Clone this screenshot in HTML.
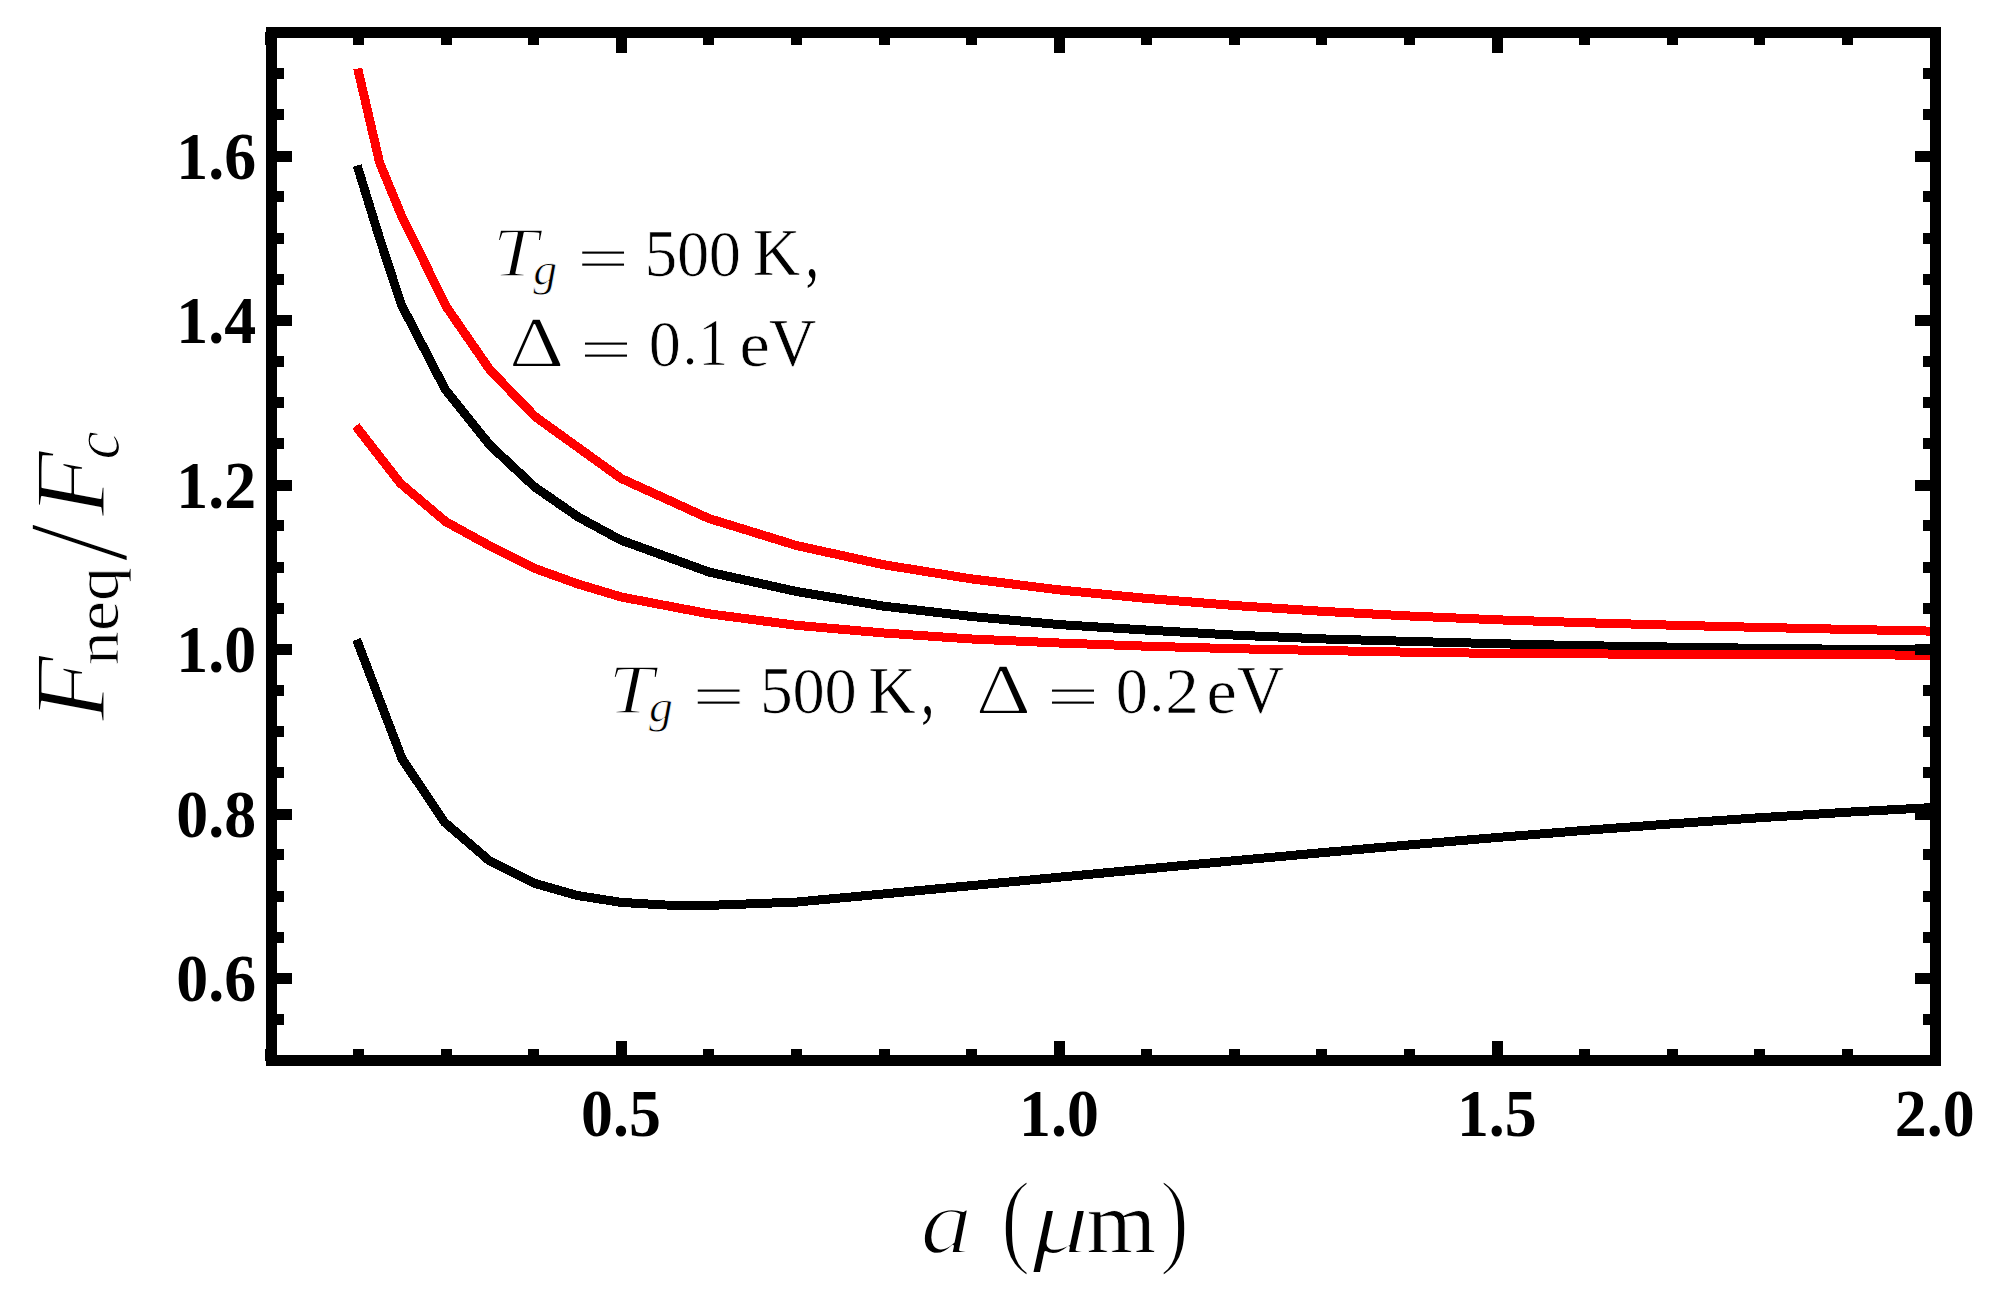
<!DOCTYPE html>
<html lang="en"><head><meta charset="utf-8"><title>F_neq / F_c versus a</title>
<style>html,body{margin:0;padding:0;background:#fff;}body{width:1992px;height:1293px;overflow:hidden;}svg{display:block;}text{font-kerning:none;}.b{font-family:"Liberation Serif",serif;font-weight:bold;}.r{font-family:"Liberation Serif",serif;font-weight:normal;}.i{font-family:"Liberation Serif",serif;font-style:italic;}</style></head><body>
<svg width="1992" height="1293" viewBox="0 0 1992 1293">
<rect x="0" y="0" width="1992" height="1293" fill="#fff"/>
<g>
<polyline points="357.2,165.6 379.5,238.0 401.3,304.5 445.2,389.4 490.0,445.3 534.6,486.9 578.3,517.1 621.3,540.3 708.9,572.0 796.4,591.5 884.0,606.2 971.6,616.5 1059.2,624.6 1146.8,630.1 1234.4,635.1 1322.0,638.9 1409.6,641.4 1497.1,643.7 1584.7,645.7 1672.3,647.1 1759.9,648.3 1847.5,649.3 1935.0,650.2" fill="none" stroke="#000" stroke-width="9.00" stroke-linejoin="miter" stroke-linecap="butt" shape-rendering="crispEdges"/>
<polyline points="356.6,639.6 402.1,758.9 444.7,822.4 489.2,860.6 533.6,883.0 577.0,895.4 621.3,902.4 665.1,905.0 708.9,905.4 796.4,902.1 884.0,893.9 971.6,885.6 1059.2,877.2 1146.8,868.9 1234.4,860.7 1322.0,852.7 1409.6,844.9 1497.1,837.5 1584.7,830.4 1672.3,823.8 1759.9,817.7 1847.5,812.2 1935.0,807.4" fill="none" stroke="#000" stroke-width="9.00" stroke-linejoin="miter" stroke-linecap="butt" shape-rendering="crispEdges"/>
<polyline points="357.7,68.5 379.6,162.6 401.8,216.4 446.5,307.0 489.8,369.7 535.1,416.6 621.0,478.4 708.9,518.5 796.4,545.5 884.0,564.8 971.6,578.9 1059.2,589.9 1146.8,598.4 1234.4,605.5 1322.0,611.3 1409.6,616.0 1497.1,619.8 1584.7,622.7 1672.3,625.2 1759.9,627.4 1847.5,629.4 1935.0,631.2" fill="none" stroke="#f00" stroke-width="9.00" stroke-linejoin="miter" stroke-linecap="butt" shape-rendering="crispEdges"/>
<polyline points="355.8,426.0 400.3,483.2 445.6,521.6 490.0,546.0 534.6,568.4 578.0,584.0 621.3,597.0 708.9,613.8 796.4,625.3 884.0,633.0 971.6,639.0 1059.2,643.0 1146.8,646.2 1234.4,648.7 1322.0,650.5 1409.6,652.2 1497.1,653.4 1584.7,653.9 1672.3,654.3 1759.9,654.6 1847.5,654.9 1935.0,655.1" fill="none" stroke="#f00" stroke-width="9.00" stroke-linejoin="miter" stroke-linecap="butt" shape-rendering="crispEdges"/>
</g>
<g fill="#000" shape-rendering="crispEdges">
<rect x="266" y="27" width="1675" height="11"/>
<rect x="266" y="1055" width="1675" height="11"/>
<rect x="266" y="27" width="11" height="1039"/>
<rect x="1930" y="27" width="11" height="1039"/>
<rect x="265" y="32" width="1" height="13"/>
<rect x="265" y="1049" width="1" height="12"/>
<rect x="353" y="1049" width="11" height="6"/>
<rect x="353" y="38" width="11" height="7"/>
<rect x="441" y="1049" width="11" height="6"/>
<rect x="441" y="38" width="11" height="7"/>
<rect x="528" y="1049" width="11" height="6"/>
<rect x="528" y="38" width="11" height="7"/>
<rect x="616" y="1041" width="11" height="14"/>
<rect x="616" y="38" width="11" height="15"/>
<rect x="703" y="1049" width="11" height="6"/>
<rect x="703" y="38" width="11" height="7"/>
<rect x="791" y="1049" width="11" height="6"/>
<rect x="791" y="38" width="11" height="7"/>
<rect x="879" y="1049" width="11" height="6"/>
<rect x="879" y="38" width="11" height="7"/>
<rect x="966" y="1049" width="11" height="6"/>
<rect x="966" y="38" width="11" height="7"/>
<rect x="1054" y="1041" width="11" height="14"/>
<rect x="1054" y="38" width="11" height="15"/>
<rect x="1141" y="1049" width="11" height="6"/>
<rect x="1141" y="38" width="11" height="7"/>
<rect x="1229" y="1049" width="11" height="6"/>
<rect x="1229" y="38" width="11" height="7"/>
<rect x="1316" y="1049" width="11" height="6"/>
<rect x="1316" y="38" width="11" height="7"/>
<rect x="1404" y="1049" width="11" height="6"/>
<rect x="1404" y="38" width="11" height="7"/>
<rect x="1492" y="1041" width="11" height="14"/>
<rect x="1492" y="38" width="11" height="15"/>
<rect x="1579" y="1049" width="11" height="6"/>
<rect x="1579" y="38" width="11" height="7"/>
<rect x="1667" y="1049" width="11" height="6"/>
<rect x="1667" y="38" width="11" height="7"/>
<rect x="1754" y="1049" width="11" height="6"/>
<rect x="1754" y="38" width="11" height="7"/>
<rect x="1842" y="1049" width="11" height="6"/>
<rect x="1842" y="38" width="11" height="7"/>
<rect x="277" y="1014" width="7" height="11"/>
<rect x="1923" y="1014" width="7" height="11"/>
<rect x="277" y="973" width="15" height="11"/>
<rect x="1915" y="973" width="15" height="11"/>
<rect x="277" y="932" width="7" height="11"/>
<rect x="1923" y="932" width="7" height="11"/>
<rect x="277" y="891" width="7" height="11"/>
<rect x="1923" y="891" width="7" height="11"/>
<rect x="277" y="849" width="7" height="11"/>
<rect x="1923" y="849" width="7" height="11"/>
<rect x="277" y="809" width="15" height="11"/>
<rect x="1915" y="809" width="15" height="11"/>
<rect x="277" y="767" width="7" height="11"/>
<rect x="1923" y="767" width="7" height="11"/>
<rect x="277" y="726" width="7" height="11"/>
<rect x="1923" y="726" width="7" height="11"/>
<rect x="277" y="685" width="7" height="11"/>
<rect x="1923" y="685" width="7" height="11"/>
<rect x="277" y="644" width="15" height="11"/>
<rect x="1915" y="644" width="15" height="11"/>
<rect x="277" y="603" width="7" height="11"/>
<rect x="1923" y="603" width="7" height="11"/>
<rect x="277" y="562" width="7" height="11"/>
<rect x="1923" y="562" width="7" height="11"/>
<rect x="277" y="520" width="7" height="11"/>
<rect x="1923" y="520" width="7" height="11"/>
<rect x="277" y="480" width="15" height="11"/>
<rect x="1915" y="480" width="15" height="11"/>
<rect x="277" y="438" width="7" height="11"/>
<rect x="1923" y="438" width="7" height="11"/>
<rect x="277" y="397" width="7" height="11"/>
<rect x="1923" y="397" width="7" height="11"/>
<rect x="277" y="356" width="7" height="11"/>
<rect x="1923" y="356" width="7" height="11"/>
<rect x="277" y="315" width="15" height="11"/>
<rect x="1915" y="315" width="15" height="11"/>
<rect x="277" y="274" width="7" height="11"/>
<rect x="1923" y="274" width="7" height="11"/>
<rect x="277" y="233" width="7" height="11"/>
<rect x="1923" y="233" width="7" height="11"/>
<rect x="277" y="191" width="7" height="11"/>
<rect x="1923" y="191" width="7" height="11"/>
<rect x="277" y="151" width="15" height="11"/>
<rect x="1915" y="151" width="15" height="11"/>
<rect x="277" y="109" width="7" height="11"/>
<rect x="1923" y="109" width="7" height="11"/>
<rect x="277" y="68" width="7" height="11"/>
<rect x="1923" y="68" width="7" height="11"/>
</g>
<text class="b" font-size="65.5" transform="translate(256.10 1000.80) scale(0.975 1.035)" text-anchor="end">0.6</text>
<text class="b" font-size="65.5" transform="translate(256.10 836.80) scale(0.975 1.035)" text-anchor="end">0.8</text>
<text class="b" font-size="65.5" transform="translate(256.10 671.80) scale(0.975 1.035)" text-anchor="end">1.0</text>
<text class="b" font-size="65.5" transform="translate(256.10 507.80) scale(0.975 1.035)" text-anchor="end">1.2</text>
<text class="b" font-size="65.5" transform="translate(256.10 342.80) scale(0.975 1.035)" text-anchor="end">1.4</text>
<text class="b" font-size="65.5" transform="translate(256.10 178.80) scale(0.975 1.035)" text-anchor="end">1.6</text>
<text class="b" font-size="65.5" transform="translate(620.96 1135.60) scale(0.975 1.035)" text-anchor="middle">0.5</text>
<text class="b" font-size="65.5" transform="translate(1058.90 1135.60) scale(0.975 1.035)" text-anchor="middle">1.0</text>
<text class="b" font-size="65.5" transform="translate(1496.84 1135.60) scale(0.975 1.035)" text-anchor="middle">1.5</text>
<text class="b" font-size="65.5" transform="translate(1934.78 1135.60) scale(0.975 1.035)" text-anchor="middle">2.0</text>
<text class="i" font-size="100" transform="matrix(1.03353 0 0 0.92708 920.599 1253.373)" fill="#000" stroke="#fff" stroke-width="2.40" vector-effect="non-scaling-stroke" stroke-linejoin="round">a</text>
<text class="r" font-size="100" transform="matrix(0.89412 0 0 1.05234 1000.676 1253.738)" fill="#000" stroke="#fff" stroke-width="2.40" vector-effect="non-scaling-stroke" stroke-linejoin="round">(</text>
<text class="i" font-size="100" transform="matrix(1.14011 0 0 0.93778 1032.100 1252.938)" fill="#000" stroke="#fff" stroke-width="2.40" vector-effect="non-scaling-stroke" stroke-linejoin="round">μ</text>
<text class="r" font-size="100" transform="matrix(0.89024 0 0 0.89574 1086.720 1252.700)" fill="#000" stroke="#fff" stroke-width="0.80" vector-effect="non-scaling-stroke" stroke-linejoin="round">m</text>
<text class="r" font-size="100" transform="matrix(0.88544 0 0 1.05234 1159.822 1253.738)" fill="#000" stroke="#fff" stroke-width="2.40" vector-effect="non-scaling-stroke" stroke-linejoin="round">)</text>
<text class="i" font-size="100" transform="rotate(-90) matrix(1.07360 0 0 1.00763 -721.363 104.900)" fill="#000" stroke="#fff" stroke-width="2.00" vector-effect="non-scaling-stroke" stroke-linejoin="round">F</text>
<text class="r" font-size="100" transform="rotate(-90) matrix(0.67616 0 0 0.62094 -664.921 118.305)" fill="#000" stroke="#fff" stroke-width="0.80" vector-effect="non-scaling-stroke" stroke-linejoin="round">neq</text>
<text class="r" font-size="100" transform="rotate(-90) matrix(1.40541 0 0 1.43582 -562.100 127.064)" fill="#000" stroke="#fff" stroke-width="2.60" vector-effect="non-scaling-stroke" stroke-linejoin="round">/</text>
<text class="i" font-size="100" transform="rotate(-90) matrix(1.07360 0 0 1.00763 -516.463 104.900)" fill="#000" stroke="#fff" stroke-width="2.00" vector-effect="non-scaling-stroke" stroke-linejoin="round">F</text>
<text class="i" font-size="100" transform="rotate(-90) matrix(0.63602 0 0 0.65417 -459.408 119.046)" fill="#000" stroke="#fff" stroke-width="1.20" vector-effect="non-scaling-stroke" stroke-linejoin="round">c</text>
<text class="i" font-size="100" transform="matrix(0.82000 0 0 0.70229 492.570 276.000)" fill="#000" stroke="#fff" stroke-width="1.80" vector-effect="non-scaling-stroke" stroke-linejoin="round">T</text>
<text class="i" font-size="100" transform="matrix(0.47872 0 0 0.45568 533.300 284.917)" fill="#000" stroke="#fff" stroke-width="0.80" vector-effect="non-scaling-stroke" stroke-linejoin="round">g</text>
<text class="r" font-size="100" transform="matrix(0.92473 0 0 0.61200 576.876 279.499)" fill="#000" stroke="#fff" stroke-width="1.00" vector-effect="non-scaling-stroke" stroke-linejoin="round">=</text>
<text class="r" font-size="100" transform="matrix(0.65590 0 0 0.67519 644.379 275.775)" fill="#000" stroke="#fff" stroke-width="0.70" vector-effect="non-scaling-stroke" stroke-linejoin="round">5</text>
<text class="r" font-size="100" transform="matrix(0.64471 0 0 0.66519 676.932 275.785)" fill="#000" stroke="#fff" stroke-width="0.70" vector-effect="non-scaling-stroke" stroke-linejoin="round">0</text>
<text class="r" font-size="100" transform="matrix(0.64471 0 0 0.66519 708.832 275.785)" fill="#000" stroke="#fff" stroke-width="0.70" vector-effect="non-scaling-stroke" stroke-linejoin="round">0</text>
<text class="r" font-size="100" transform="matrix(0.65641 0 0 0.68397 752.631 275.400)" fill="#000" stroke="#fff" stroke-width="0.60" vector-effect="non-scaling-stroke" stroke-linejoin="round">K</text>
<text class="r" font-size="100" transform="matrix(0.52000 0 0 0.74563 805.750 276.643)" fill="#000">,</text>
<text class="r" font-size="100" transform="matrix(0.85991 0 0 0.72273 508.875 365.700)" fill="#000" stroke="#fff" stroke-width="1.60" vector-effect="non-scaling-stroke" stroke-linejoin="round">Δ</text>
<text class="r" font-size="100" transform="matrix(0.92903 0 0 0.61600 579.855 369.582)" fill="#000" stroke="#fff" stroke-width="1.00" vector-effect="non-scaling-stroke" stroke-linejoin="round">=</text>
<text class="r" font-size="100" transform="matrix(0.64235 0 0 0.66222 648.841 365.588)" fill="#000" stroke="#fff" stroke-width="0.70" vector-effect="non-scaling-stroke" stroke-linejoin="round">0</text>
<text class="r" font-size="100" transform="matrix(0.54167 0 0 0.53617 683.279 364.296)" fill="#000">.</text>
<text class="r" font-size="100" transform="matrix(0.59007 0 0 0.66970 698.387 365.450)" fill="#000" stroke="#fff" stroke-width="0.70" vector-effect="non-scaling-stroke" stroke-linejoin="round">1</text>
<text class="r" font-size="100" transform="matrix(0.68108 0 0 0.63542 739.576 365.565)" fill="#000" stroke="#fff" stroke-width="0.60" vector-effect="non-scaling-stroke" stroke-linejoin="round">e</text>
<text class="r" font-size="100" transform="matrix(0.65571 0 0 0.68358 768.944 365.375)" fill="#000" stroke="#fff" stroke-width="0.60" vector-effect="non-scaling-stroke" stroke-linejoin="round">V</text>
<text class="i" font-size="100" transform="matrix(0.82000 0 0 0.70229 608.170 713.200)" fill="#000" stroke="#fff" stroke-width="1.80" vector-effect="non-scaling-stroke" stroke-linejoin="round">T</text>
<text class="i" font-size="100" transform="matrix(0.47872 0 0 0.45568 648.900 722.117)" fill="#000" stroke="#fff" stroke-width="0.80" vector-effect="non-scaling-stroke" stroke-linejoin="round">g</text>
<text class="r" font-size="100" transform="matrix(0.92473 0 0 0.61200 692.476 716.699)" fill="#000" stroke="#fff" stroke-width="1.00" vector-effect="non-scaling-stroke" stroke-linejoin="round">=</text>
<text class="r" font-size="100" transform="matrix(0.65590 0 0 0.67519 759.979 712.975)" fill="#000" stroke="#fff" stroke-width="0.70" vector-effect="non-scaling-stroke" stroke-linejoin="round">5</text>
<text class="r" font-size="100" transform="matrix(0.64471 0 0 0.66519 792.532 712.985)" fill="#000" stroke="#fff" stroke-width="0.70" vector-effect="non-scaling-stroke" stroke-linejoin="round">0</text>
<text class="r" font-size="100" transform="matrix(0.64471 0 0 0.66519 824.432 712.985)" fill="#000" stroke="#fff" stroke-width="0.70" vector-effect="non-scaling-stroke" stroke-linejoin="round">0</text>
<text class="r" font-size="100" transform="matrix(0.65641 0 0 0.68397 868.231 712.600)" fill="#000" stroke="#fff" stroke-width="0.60" vector-effect="non-scaling-stroke" stroke-linejoin="round">K</text>
<text class="r" font-size="100" transform="matrix(0.52000 0 0 0.74563 921.350 713.843)" fill="#000">,</text>
<text class="r" font-size="100" transform="matrix(0.85991 0 0 0.72273 975.675 712.800)" fill="#000" stroke="#fff" stroke-width="1.60" vector-effect="non-scaling-stroke" stroke-linejoin="round">Δ</text>
<text class="r" font-size="100" transform="matrix(0.92903 0 0 0.61600 1046.655 716.682)" fill="#000" stroke="#fff" stroke-width="1.00" vector-effect="non-scaling-stroke" stroke-linejoin="round">=</text>
<text class="r" font-size="100" transform="matrix(0.64235 0 0 0.66222 1115.641 712.688)" fill="#000" stroke="#fff" stroke-width="0.70" vector-effect="non-scaling-stroke" stroke-linejoin="round">0</text>
<text class="r" font-size="100" transform="matrix(0.54167 0 0 0.53617 1150.079 711.396)" fill="#000">.</text>
<text class="r" font-size="100" transform="matrix(0.67250 0 0 0.66264 1165.224 712.550)" fill="#000" stroke="#fff" stroke-width="0.70" vector-effect="non-scaling-stroke" stroke-linejoin="round">2</text>
<text class="r" font-size="100" transform="matrix(0.68108 0 0 0.63542 1206.376 712.665)" fill="#000" stroke="#fff" stroke-width="0.60" vector-effect="non-scaling-stroke" stroke-linejoin="round">e</text>
<text class="r" font-size="100" transform="matrix(0.64886 0 0 0.68358 1236.951 712.475)" fill="#000" stroke="#fff" stroke-width="0.60" vector-effect="non-scaling-stroke" stroke-linejoin="round">V</text>
</svg></body></html>
